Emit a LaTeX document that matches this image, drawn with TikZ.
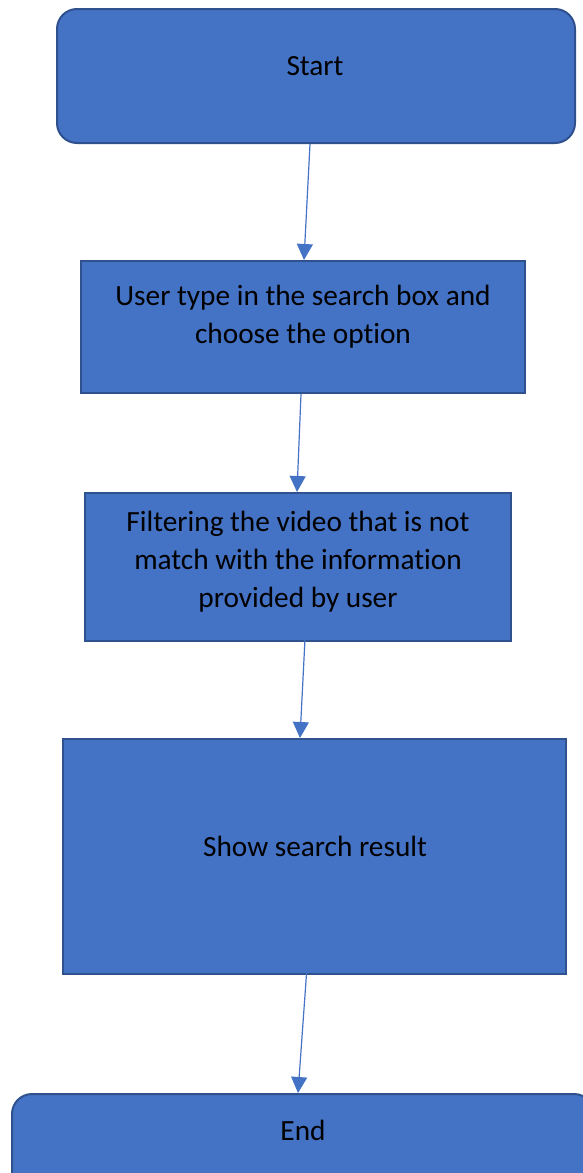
\documentclass[tikz,border=0pt]{standalone}
\usepackage{fontspec}
\setmainfont[RawFeature=-liga]{Carlito}
\usetikzlibrary{arrows.meta,positioning}
\definecolor{boxfill}{HTML}{4472C4}
\definecolor{boxline}{HTML}{2F528F}
\begin{document}
\begin{tikzpicture}[x=1pt,y=-1pt,
  box/.style={draw=boxline,fill=boxfill,line width=2pt,inner sep=0pt},
  rbox/.style={box,rounded corners=20pt},
  txt/.style={align=center,inner sep=0pt,font=\fontsize{29.3}{38}\selectfont,text=black},
  arr/.style={draw=boxfill,line width=1.2pt,-{Triangle[width=16pt,length=16pt]}}]
\useasboundingbox (0,0) rectangle (582,1173);
\node[rbox,minimum width=518pt,minimum height=134pt] (start) at (316,76) {};
\node[box,minimum width=444pt,minimum height=132pt] (b2) at (303,327) {};
\node[box,minimum width=426pt,minimum height=148pt] (b3) at (298,567) {};
\node[box,minimum width=503pt,minimum height=235pt] (b4) at (314.5,856.5) {};
\node[rbox,minimum width=582pt,minimum height=116pt] (end) at (303,1152) {};
\node[txt] (t1) at (315,66) {Start};
\node[txt] (t2) at (303,317) {User type in the search box and\\choose the option};
\node[txt] (t3) at (298,562) {Filtering the video that is not\\match with the information\\provided by user};
\node[txt] (t4) at (315,846) {Show search result};
\node[txt] (t5) at (303,1130) {End};
\draw[arr] ([xshift=-6pt]start.south) -- ([xshift=1pt]b2.north);
\draw[arr] ([xshift=-2pt]b2.south) -- ([xshift=-1pt]b3.north);
\draw[arr] ([xshift=7pt,yshift=3pt]b3.south) -- ([xshift=-14.5pt]b4.north);
\draw[arr] ([xshift=-7.5pt,yshift=8pt]b4.south) -- ([xshift=-5pt]end.north);
\end{tikzpicture}
\end{document}
